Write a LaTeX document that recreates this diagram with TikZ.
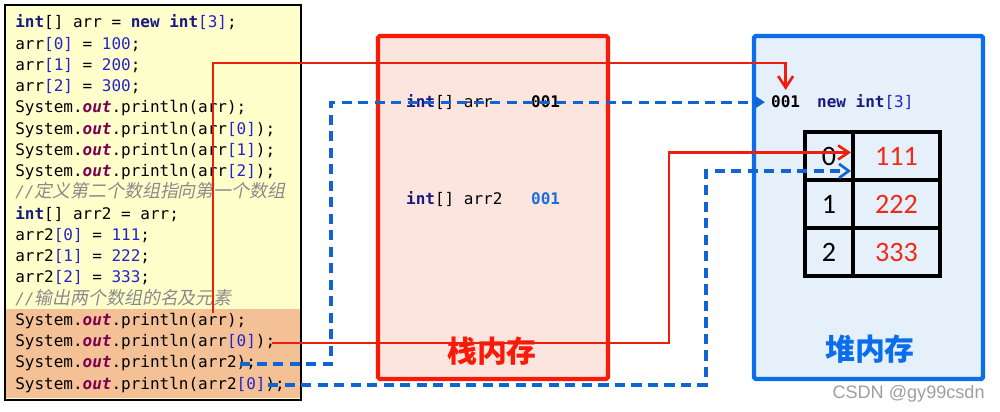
\documentclass[tikz,border=0pt]{standalone}
\usepackage{fontspec}
\setmonofont{DejaVu Sans Mono}
\newfontfamily\cjk{Noto Sans CJK SC}
\newfontfamily\cjkit[FakeSlant=0.2]{Noto Sans CJK SC}
\newfontfamily\calib{Carlito}
\newfontfamily\wmfont{Liberation Sans}
\usetikzlibrary{arrows.meta}
\definecolor{codeyellow}{HTML}{FFFFCC}
\definecolor{codeorange}{HTML}{F4C196}
\definecolor{kwc}{HTML}{1A1A80}
\definecolor{numc}{HTML}{2424CC}
\definecolor{outc}{HTML}{7B0052}
\definecolor{cmc}{HTML}{8A8A8A}
\definecolor{stackfill}{HTML}{FCE5DF}
\definecolor{stackred}{HTML}{FA1A0A}
\definecolor{linered}{HTML}{EE1E0E}
\definecolor{heapfill}{HTML}{E5F0FB}
\definecolor{heapblue}{HTML}{0A6EEC}
\definecolor{dashblue}{HTML}{0F66D2}
\definecolor{valred}{HTML}{EE2A18}
\definecolor{addrblue}{HTML}{1A6ED6}
\newcommand\kw[1]{{\color{kwc}\bfseries #1}}
\newcommand\nm[1]{{\color{numc}#1}}
\newcommand\ot{{\color{outc}\bfseries\itshape out}}
\newcommand\cmt[1]{{\color{cmc}\itshape //{\cjkit\fontsize{10.2}{12}\selectfont #1}}}
\begin{document}
\begin{tikzpicture}[x=0.02cm,y=-0.02cm,
  codeline/.style={anchor=base west,inner sep=0pt,font=\ttfamily\fontsize{9.1}{12}\selectfont},
  memtext/.style={anchor=base west,font=\ttfamily\fontsize{9.1}{12}\selectfont},
  redline/.style={draw=linered,line width=1.6pt},
  blueline/.style={draw=dashblue,line width=1.9pt,dash pattern=on 5.8pt off 3.6pt},
  cell/.style={draw=black,line width=2.3pt,minimum height=0.96cm,inner sep=0pt,font=\calib\fontsize{16}{18}\selectfont},
  idxcell/.style={cell,minimum width=0.96cm},
  valcell/.style={cell,minimum width=1.74cm,text=valred},
  memlabel/.style={font=\cjk\bfseries\fontsize{17}{20}\selectfont}
]
\useasboundingbox (0,0) rectangle (1000,412);
% code box
\fill[codeyellow] (5,5) rectangle (301,400);
\fill[codeorange] (5,309) rectangle (301,398);
\draw[black,line width=1.2pt] (5,5) rectangle (301,400);
\node[codeline] (c1) at (15,28) {\kw{int}[] arr = \kw{new} \kw{int}\nm{[3]};};
\node[codeline] (c2) at (15,49.24) {arr\nm{[0]} = \nm{100};};
\node[codeline] (c3) at (15,70.48) {arr\nm{[1]} = \nm{200};};
\node[codeline] (c4) at (15,91.72) {arr\nm{[2]} = \nm{300};};
\node[codeline] (c5) at (15,112.96) {System.\ot.println(arr);};
\node[codeline] (c6) at (15,134.2) {System.\ot.println(arr\nm{[0]});};
\node[codeline] (c7) at (15,155.44) {System.\ot.println(arr\nm{[1]});};
\node[codeline] (c8) at (15,176.68) {System.\ot.println(arr\nm{[2]});};
\node[codeline] (c9) at (15,197.92) {\cmt{定义第二个数组指向第一个数组}};
\node[codeline] (c10) at (15,219.16) {\kw{int}[] arr2 = arr;};
\node[codeline] (c11) at (15,240.4) {arr2\nm{[0]} = \nm{111};};
\node[codeline] (c12) at (15,261.64) {arr2\nm{[1]} = \nm{222};};
\node[codeline] (c13) at (15,282.88) {arr2\nm{[2]} = \nm{333};};
\node[codeline] (c14) at (15,304.12) {\cmt{输出两个数组的名及元素}};
\node[codeline] (c15) at (15,325.36) {System.\ot.println(arr);};
\node[codeline] (c16) at (15,346.6) {System.\ot.println(arr\nm{[0]});};
\node[codeline] (c17) at (15,367.84) {System.\ot.println(arr2);};
\node[codeline] (c18) at (15,389.08) {System.\ot.println(arr2\nm{[0]});};
% stack
\draw[stackred,fill=stackfill,line width=2.3pt,rounded corners=1pt] (378,36) rectangle (608,379);
\node[memtext] (s1) at (400,108) {\kw{int}[] arr};
\node[memtext] (s1a) at (525,108) {\bfseries 001};
\node[memtext] (s2) at (400,204) {\kw{int}[] arr2};
\node[memtext] (s2a) at (525,204) {\bfseries\color{addrblue}001};
\node[memlabel,text=stackred] (stl) at (492,351) {栈内存};
% heap
\draw[heapblue,fill=heapfill,line width=2.5pt,rounded corners=1pt] (754,36) rectangle (983,379);
\node[memtext] (h001) at (765,108) {\bfseries 001};
\node[memtext] (hnew) at (811,108) {\kw{new} \kw{int}\nm{[3]}};
\node[idxcell] (i0) at (829,156) {0};
\node[valcell] (v0) at (896.5,156) {111};
\node[idxcell] (i1) at (829,204) {1};
\node[valcell] (v1) at (896.5,204) {222};
\node[idxcell] (i2) at (829,252) {2};
\node[valcell] (v2) at (896.5,252) {333};
\node[memlabel,text=heapblue] (hpl) at (870,349) {堆内存};
% watermark
\node[anchor=base east,inner sep=0pt,text=black!38,font=\wmfont\fontsize{10.3}{12}\selectfont] (wm) at (985,398) {CSDN @gy99csdn};
% connectors
\coordinate (r1s) at (213,313);
\coordinate (r1t) at (213,63);
\draw[redline,-{Straight Barb[length=6.5pt,width=8.5pt,line width=1.5pt]}] (r1s) -- (r1t) -| (h001.north);
\coordinate (r2s) at (272,343);
\coordinate (r2m) at (669,343);
\draw[redline,-{Straight Barb[length=6pt,width=8pt,line width=1.5pt]}] (r2s) -- (r2m) |- ([yshift=2pt]v0.west);
\coordinate (b1s) at (240,364);
\coordinate (b1m) at (331,364);
\draw[blueline,-{Triangle[length=5pt,width=6pt]}] (b1s) -- (b1m) |- (h001.west);
\coordinate (b2s) at (268,385);
\coordinate (b2m) at (706,385);
\draw[blueline,-{Straight Barb[length=5.5pt,width=8pt,line width=1.5pt]}] (b2s) -- (b2m) |- ([yshift=-8.5pt]v0.west);
\end{tikzpicture}
\end{document}
